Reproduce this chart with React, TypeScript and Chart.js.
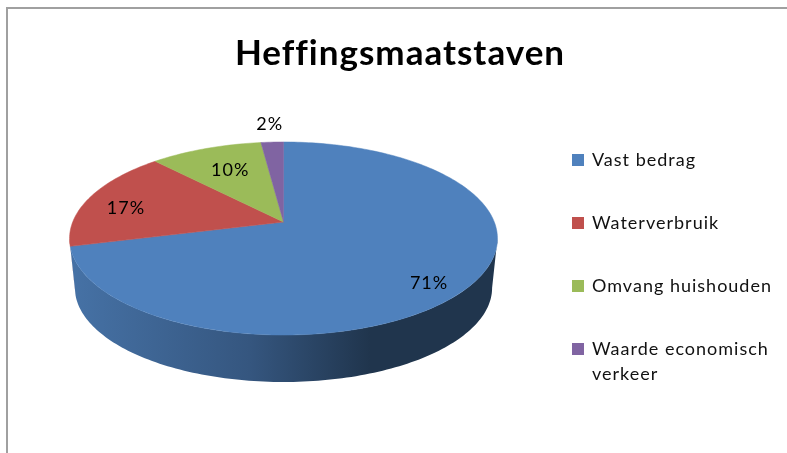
import React, { useEffect, useRef } from "react";
import { Chart, registerables } from "chart.js";

Chart.register(...registerables);

const categories: (string | string[])[] = [
  "Vast bedrag",
  "Waterverbruik",
  "Omvang huishouden",
  ["Waarde economisch", "verkeer"],
];
const shares = [71, 17, 10, 2];
const sliceColors = ["#4F81BD", "#C0504D", "#9BBB59", "#8064A2"];
const labelOffsets = [
  [10, 14],
  [-11, 5],
  [7, 5],
  [-5, -36],
];

const TIP = { x: 283.5, y: 222 };
const SPAN = { a: 210.8, b: 93.7, p: 0.171 };
const WALL = { drop: 49.8, scale: 0.975 };
const FONT = "Lato, 'Open Sans', sans-serif";

function project(theta: number, r = 1, drop = 0, scale = 1) {
  const u = Math.sin(theta) * r;
  const v = Math.cos(theta) * r;
  const d = 1 + SPAN.p * v;
  return {
    x: TIP.x + (SPAN.a * u * scale) / d,
    y: TIP.y + drop - (SPAN.b * v * scale) / d,
  };
}

function shade(hex: string, f: number) {
  const n = parseInt(hex.slice(1), 16);
  const c = [(n >> 16) & 255, (n >> 8) & 255, n & 255].map((v) => Math.round(v * f));
  return `rgb(${c[0]},${c[1]},${c[2]})`;
}

function sweep(start: number, end: number) {
  const steps = Math.max(4, Math.ceil((end - start) / 0.02));
  const out: number[] = [];
  for (let i = 0; i <= steps; i++) out.push(start + ((end - start) * i) / steps);
  return out;
}

// The visible front of the wall runs between the two horizontal extremes of the projected rim.
const FRONT_FROM = Math.acos(-SPAN.p);
const FRONT_TO = 2 * Math.PI - FRONT_FROM;

const pie3d = {
  id: "pie3d",
  beforeLayout(chart: any) {
    chart.ctx.letterSpacing = "1px";
  },
  beforeDraw(chart: any) {
    const { ctx, width, height } = chart;
    ctx.letterSpacing = "1px";
    ctx.save();
    ctx.strokeStyle = "#A0A0A0";
    ctx.lineWidth = 2;
    ctx.beginPath();
    ctx.moveTo(7, height);
    ctx.lineTo(7, 8);
    ctx.lineTo(width, 8);
    ctx.stroke();
    ctx.restore();
  },
  beforeDatasetsDraw(chart: any) {
    const { ctx } = chart;
    const arcs = chart.getDatasetMeta(0).data as any[];
    const slices = arcs.map((arc, i) => ({
      start: arc.startAngle + Math.PI / 2,
      end: arc.endAngle + Math.PI / 2,
      color: sliceColors[i],
    }));
    ctx.save();
    for (const s of [...slices].reverse()) {
      const from = Math.max(s.start, FRONT_FROM);
      const to = Math.min(s.end, FRONT_TO);
      if (to <= from) continue;
      const angles = sweep(from, to);
      const g = ctx.createLinearGradient(70, 0, 370, 0);
      g.addColorStop(0, shade(s.color, 0.88));
      g.addColorStop(0.6, shade(s.color, 0.67));
      g.addColorStop(1, shade(s.color, 0.41));
      ctx.fillStyle = g;
      ctx.beginPath();
      angles.forEach((t, i) => {
        const p = project(t);
        i ? ctx.lineTo(p.x, p.y) : ctx.moveTo(p.x, p.y);
      });
      [...angles].reverse().forEach((t) => {
        const p = project(t, 1, WALL.drop, WALL.scale);
        ctx.lineTo(p.x, p.y);
      });
      ctx.closePath();
      ctx.fill();
    }
    for (const s of slices) {
      ctx.fillStyle = s.color;
      ctx.strokeStyle = s.color;
      ctx.lineWidth = 0.5;
      ctx.beginPath();
      ctx.moveTo(TIP.x, TIP.y);
      sweep(s.start, s.end).forEach((t) => {
        const p = project(t);
        ctx.lineTo(p.x, p.y);
      });
      ctx.closePath();
      ctx.fill();
      ctx.stroke();
    }
    ctx.restore();
    return false;
  },
  afterDraw(chart: any) {
    const { ctx } = chart;
    const arcs = chart.getDatasetMeta(0).data as any[];
    ctx.save();
    ctx.fillStyle = "#000";
    ctx.font = `18px ${FONT}`;
    ctx.textAlign = "center";
    ctx.textBaseline = "middle";
    arcs.forEach((arc, i) => {
      const mid = (arc.startAngle + arc.endAngle) / 2 + Math.PI / 2;
      const p = project(mid, 0.75);
      ctx.fillText(`${shares[i]}%`, p.x + labelOffsets[i][0], p.y + labelOffsets[i][1]);
    });
    ctx.restore();
  },
};

export default function App() {
  const ref = useRef<HTMLCanvasElement>(null);
  useEffect(() => {
    const chart = new Chart(ref.current!, {
      type: "pie",
      data: {
        labels: categories as any,
        datasets: [
          { data: shares, backgroundColor: sliceColors, borderColor: sliceColors, borderWidth: 2 },
        ],
      },
      plugins: [pie3d],
      options: {
        responsive: false,
        animation: false,
        layout: { padding: { left: 18, right: 5, top: 0, bottom: 0 } },
        plugins: {
          tooltip: { enabled: false },
          title: {
            display: true,
            text: "Heffingsmaatstaven",
            color: "#000",
            font: { family: FONT, size: 35, weight: "bold" },
            padding: { top: 33, bottom: 31 },
          },
          legend: {
            position: "right",
            align: "start",
            fullSize: false,
            labels: {
              color: "#111",
              font: { family: FONT, size: 18, lineHeight: "25px" },
              boxWidth: 10,
              boxHeight: 10,
              padding: 45,
            },
          },
        },
      } as any,
    });
    return () => chart.destroy();
  }, []);
  return (
    <div style={{ position: "fixed", left: 0, top: 0, width: 787, height: 453, background: "#fff" }}>
      <canvas ref={ref} width={787} height={453} style={{ display: "block" }} />
    </div>
  );
}
